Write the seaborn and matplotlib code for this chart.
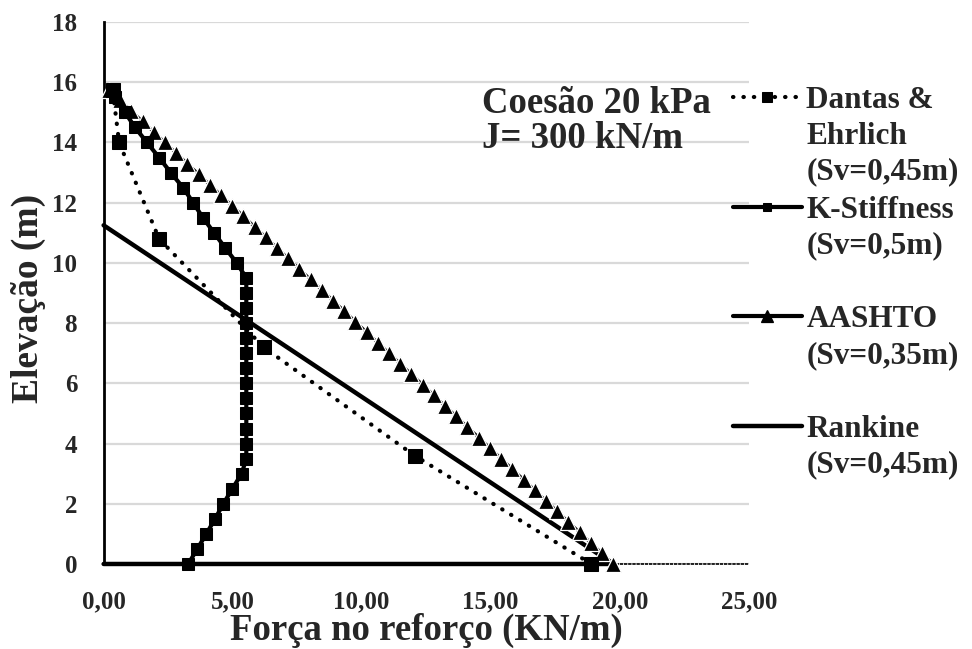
import matplotlib
matplotlib.use("Agg")
import matplotlib.pyplot as plt
import seaborn as sns
import pandas as pd

# ---------------- data ----------------
dantas_x = [18.90, 12.05, 6.20, 2.15, 0.60, 0.35]
dantas_y = [0.00, 3.60, 7.20, 10.80, 14.00, 15.75]

kstiff_y = [0.0, 0.5, 1.0, 1.5, 2.0, 2.5, 3.0, 3.5, 4.0, 4.5, 5.0, 5.5, 6.0, 6.5,
            7.0, 7.5, 8.0, 8.5, 9.0, 9.5, 10.0, 10.5, 11.0, 11.5, 12.0, 12.5,
            13.0, 13.5, 14.0, 14.5, 15.0, 15.5]
kstiff_x = [3.28, 3.63, 3.98, 4.32, 4.64, 4.99, 5.35, 5.53, 5.53, 5.53, 5.53,
            5.53, 5.53, 5.53, 5.53, 5.53, 5.53, 5.53, 5.53, 5.53, 5.16, 4.71,
            4.28, 3.85, 3.47, 3.08, 2.60, 2.15, 1.68, 1.22, 0.83, 0.44]

aashto_y = [0.00, 0.35, 0.70, 1.05, 1.40, 1.75, 2.10, 2.45, 2.80, 3.15, 3.50,
            3.85, 4.20, 4.55, 4.90, 5.25, 5.60, 5.95, 6.30, 6.65, 7.00, 7.35,
            7.70, 8.05, 8.40, 8.75, 9.10, 9.45, 9.80, 10.15, 10.50, 10.85,
            11.20, 11.55, 11.90, 12.25, 12.60, 12.95, 13.30, 13.65, 14.00,
            14.35, 14.70, 15.05, 15.40, 15.75]
aashto_x = [19.75, 19.32, 18.88, 18.45, 18.01, 17.58, 17.14, 16.71, 16.28,
            15.84, 15.41, 14.97, 14.54, 14.10, 13.67, 13.23, 12.80, 12.37,
            11.93, 11.50, 11.06, 10.63, 10.19, 9.76, 9.33, 8.89, 8.46, 8.02,
            7.59, 7.15, 6.72, 6.29, 5.85, 5.42, 4.98, 4.55, 4.11, 3.68, 3.24,
            2.81, 2.38, 1.94, 1.51, 1.07, 0.64, 0.20]

rankine_x = [0.00, 19.75, 0.00]
rankine_y = [11.25, 0.00, 0.00]

series_labels = ["Dantas &\nEhrlich\n(Sv=0,45m)",
                 "K-Stiffness\n(Sv=0,5m)\n",
                 "AASHTO\n(Sv=0,35m)\n",
                 "Rankine\n(Sv=0,45m)"]

x_ticks = [0, 5, 10, 15, 20, 25]
x_tick_labels = ["0,00", "5,00", "10,00", "15,00", "20,00", "25,00"]
y_ticks = [0, 2, 4, 6, 8, 10, 12, 14, 16, 18]

annotation = "Coesão 20 kPa\nJ= 300 kN/m"
x_title = "Força no reforço (KN/m)"
y_title = "Elevação (m)"

# ---------------- style ----------------
sns.set_style("white")
plt.rcParams["font.family"] = ["Liberation Serif", "DejaVu Serif"]
plt.rcParams["font.weight"] = "bold"

fig = plt.figure(figsize=(9.72, 6.49), dpi=100)
ax = fig.add_axes([0.1066, 0.131, 0.6637, 0.835])

df_d = pd.DataFrame({"x": dantas_x, "y": dantas_y})
df_k = pd.DataFrame({"x": kstiff_x, "y": kstiff_y})
df_a = pd.DataFrame({"x": aashto_x, "y": aashto_y})
df_r = pd.DataFrame({"x": rankine_x, "y": rankine_y})

sns.lineplot(data=df_r, x="x", y="y", sort=False, estimator=None, ax=ax,
             color="black", lw=3.2, label=series_labels[3], zorder=3,
             clip_on=False)
sns.lineplot(data=df_a, x="x", y="y", sort=False, estimator=None, ax=ax,
             color="black", lw=2.2, marker="^", markersize=11,
             markerfacecolor="black", markeredgecolor="white",
             markeredgewidth=0.9, label=series_labels[2], zorder=4,
             clip_on=False)
sns.lineplot(data=df_k, x="x", y="y", sort=False, estimator=None, ax=ax,
             color="black", lw=3, marker="s", markersize=8.5,
             markerfacecolor="black", markeredgecolor="black",
             label=series_labels[1], zorder=5, clip_on=False)
sns.lineplot(data=df_d, x="x", y="y", sort=False, estimator=None, ax=ax,
             color="black", lw=3, linestyle=(0, (0.1, 2.4)),
             dash_capstyle="round", marker="s", markersize=10,
             markerfacecolor="black", markeredgecolor="black",
             label=series_labels[0], zorder=6, clip_on=False)

ax.set_xlim(0, 25)
ax.set_ylim(0, 18)
ax.set_xticks(x_ticks)
ax.set_xticklabels(x_tick_labels)
ax.set_yticks(y_ticks)
ax.yaxis.grid(True, color="#d9d9d9", lw=1.6)
ax.xaxis.grid(False)
ax.set_axisbelow(True)

for s in ["top", "right"]:
    ax.spines[s].set_visible(False)
ax.spines["left"].set_color("black")
ax.spines["left"].set_linewidth(2)
ax.spines["bottom"].set_color("black")
ax.spines["bottom"].set_linewidth(1.2)
ax.spines["bottom"].set_linestyle((0, (1, 1.5)))

ax.tick_params(axis="x", direction="inout", length=8, width=1, color="black",
               labelsize=18, pad=15)
ax.tick_params(axis="y", length=0, labelsize=18, pad=19)
for t in ax.get_xticklabels() + ax.get_yticklabels():
    t.set_fontweight("bold")

ax.set_xlabel(x_title, fontsize=26.5, fontweight="bold", va="center")
ax.xaxis.set_label_coords(0.501, -0.122)
ax.set_ylabel(y_title, fontsize=27, fontweight="bold", va="center")
ax.yaxis.set_label_coords(-0.117, 0.49)

ax.text(14.67, 14.72, annotation, fontsize=26.5, fontweight="bold",
        ha="left", va="center", linespacing=1.0)

# legend
handles, labels = ax.get_legend_handles_labels()
order = [labels.index(l) for l in series_labels]
leg = ax.legend([handles[i] for i in order], [labels[i] for i in order],
                loc="upper left", bbox_to_anchor=(733 / 972, 1 - 86 / 649),
                bbox_transform=fig.transFigure, frameon=False,
                fontsize=22.5, handlelength=2.2, handletextpad=0.15,
                labelspacing=0.3, borderpad=0, borderaxespad=0,
                numpoints=1, markerscale=0.75)
for t in leg.get_texts():
    t.set_fontweight("bold")
    t.set_linespacing(1.3)
for col in leg._legend_handle_box.get_children():
    for hp in col.get_children():
        hp.align = "top"
leg.legend_handles[2].set_linewidth(3)
leg.legend_handles[2].set_markeredgecolor("black")

fig.savefig("out.png", dpi=100)
